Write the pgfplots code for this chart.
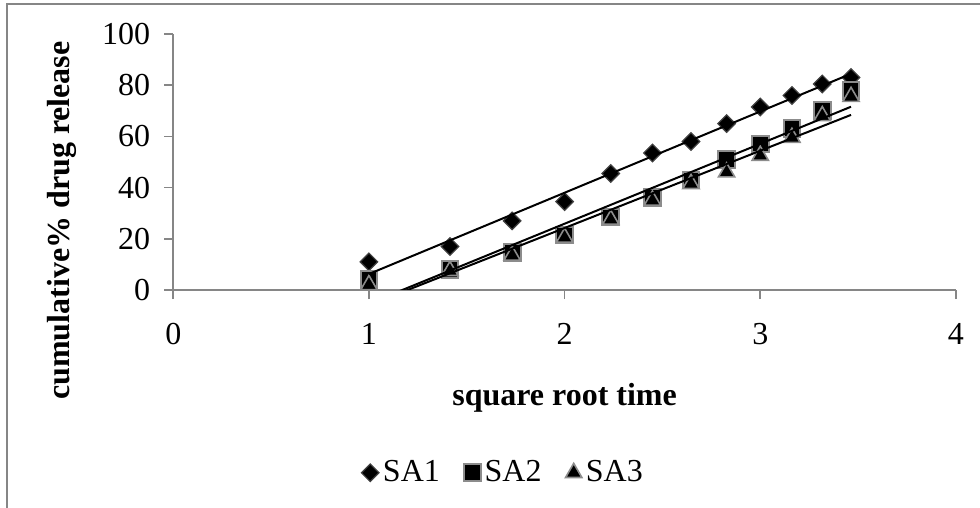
\documentclass[border=0pt]{standalone}
\usepackage{pgfplots}
\pgfplotsset{compat=1.18}
\usepackage{pgfplotstable}
\usepackage{fontspec}
\setmainfont{Liberation Serif}

\definecolor{axisgrey}{HTML}{868686}
\definecolor{markgrey}{HTML}{8C8C8C}
\definecolor{darkedge}{HTML}{404040}

% x = square root of time (1..12), y = cumulative % drug release
\pgfplotstableread{
x      SA1   SA2   SA3
1.000  11.0  4.0   2.0
1.414  17.0  8.0   7.5
1.732  27.0  14.5  13.5
2.000  34.5  21.5  20.5
2.236  45.5  28.5  27.5
2.449  53.5  36.0  35.0
2.646  58.0  43.0  41.5
2.828  65.0  51.0  46.0
3.000  71.5  57.0  52.5
3.162  76.0  63.0  59.5
3.317  80.5  70.0  68.0
3.464  83.0  78.0  75.5
}\release

\begin{document}
\begin{tikzpicture}
\useasboundingbox (-86.65pt,-109pt) rectangle (403.35pt,145pt);
\clip (-86.65pt,-109pt) rectangle (403.35pt,145pt);
% chart area border
\draw[axisgrey, line width=0.8pt] (-83.15pt,-130pt) -- (-83.15pt,143pt) -- (420pt,143pt);
\begin{axis}[
  at={(0pt,0pt)}, anchor=south west,
  scale only axis,
  width=391.3pt, height=128pt,
  xmin=0, xmax=4, ymin=0, ymax=100,
  xtick={0,1,2,3,4}, ytick={0,20,40,60,80,100},
  axis lines=left,
  axis line style={axisgrey, line width=0.8pt, -},
  tick style={axisgrey, line width=0.8pt},
  tick align=outside,
  major tick length=4.5pt,
  font=\fontsize{16}{19}\selectfont,
  /pgf/number format/assume math mode=true,
  xticklabel shift=8.6pt,
  yticklabel shift=3.6pt,
  xlabel={\textbf{square root time}},
  ylabel={\textbf{cumulative\% drug release}},
  x label style={at={(axis description cs:0.5,-0.42)}, anchor=center},
  y label style={at={(axis description cs:-0.142,0.271)}, anchor=center},
  clip mode=individual,
  legend columns=-1,
  legend style={at={(axis description cs:0.4227,-0.714)}, anchor=center,
    draw=none, fill=none, font=\fontsize{16}{19}\selectfont,
    /tikz/every even column/.append style={column sep=10pt}},
  legend cell align=left,
  legend image code/.code={\draw[#1] plot coordinates {(0.25cm,0cm)};},
]
\addplot[only marks, mark=square*, mark size=3.1pt,
  mark options={rotate=45, fill=black, draw=darkedge, line width=0.6pt}]
  table[x=x, y=SA1] {\release};
\addlegendentry{SA1}
\addplot[only marks, mark=square*, mark size=4.2pt,
  mark options={fill=black, draw=markgrey, line width=1pt}]
  table[x=x, y=SA2] {\release};
\addlegendentry{SA2}
\addplot[only marks, mark=triangle*, mark size=4.7pt,
  mark options={fill=black, draw=markgrey, line width=0.8pt}]
  table[x=x, y=SA3] {\release};
\addlegendentry{SA3}
% linear trend lines
\addplot[black, line width=1pt, no marks, forget plot]
  table[x=x, y={create col/linear regression={y=SA1}}] {\release};
\addplot[black, line width=1pt, no marks, forget plot]
  table[x=x, y={create col/linear regression={y=SA2}}] {\release};
\addplot[black, line width=1pt, no marks, forget plot]
  table[x=x, y={create col/linear regression={y=SA3}}] {\release};
\end{axis}
\end{tikzpicture}
\end{document}
